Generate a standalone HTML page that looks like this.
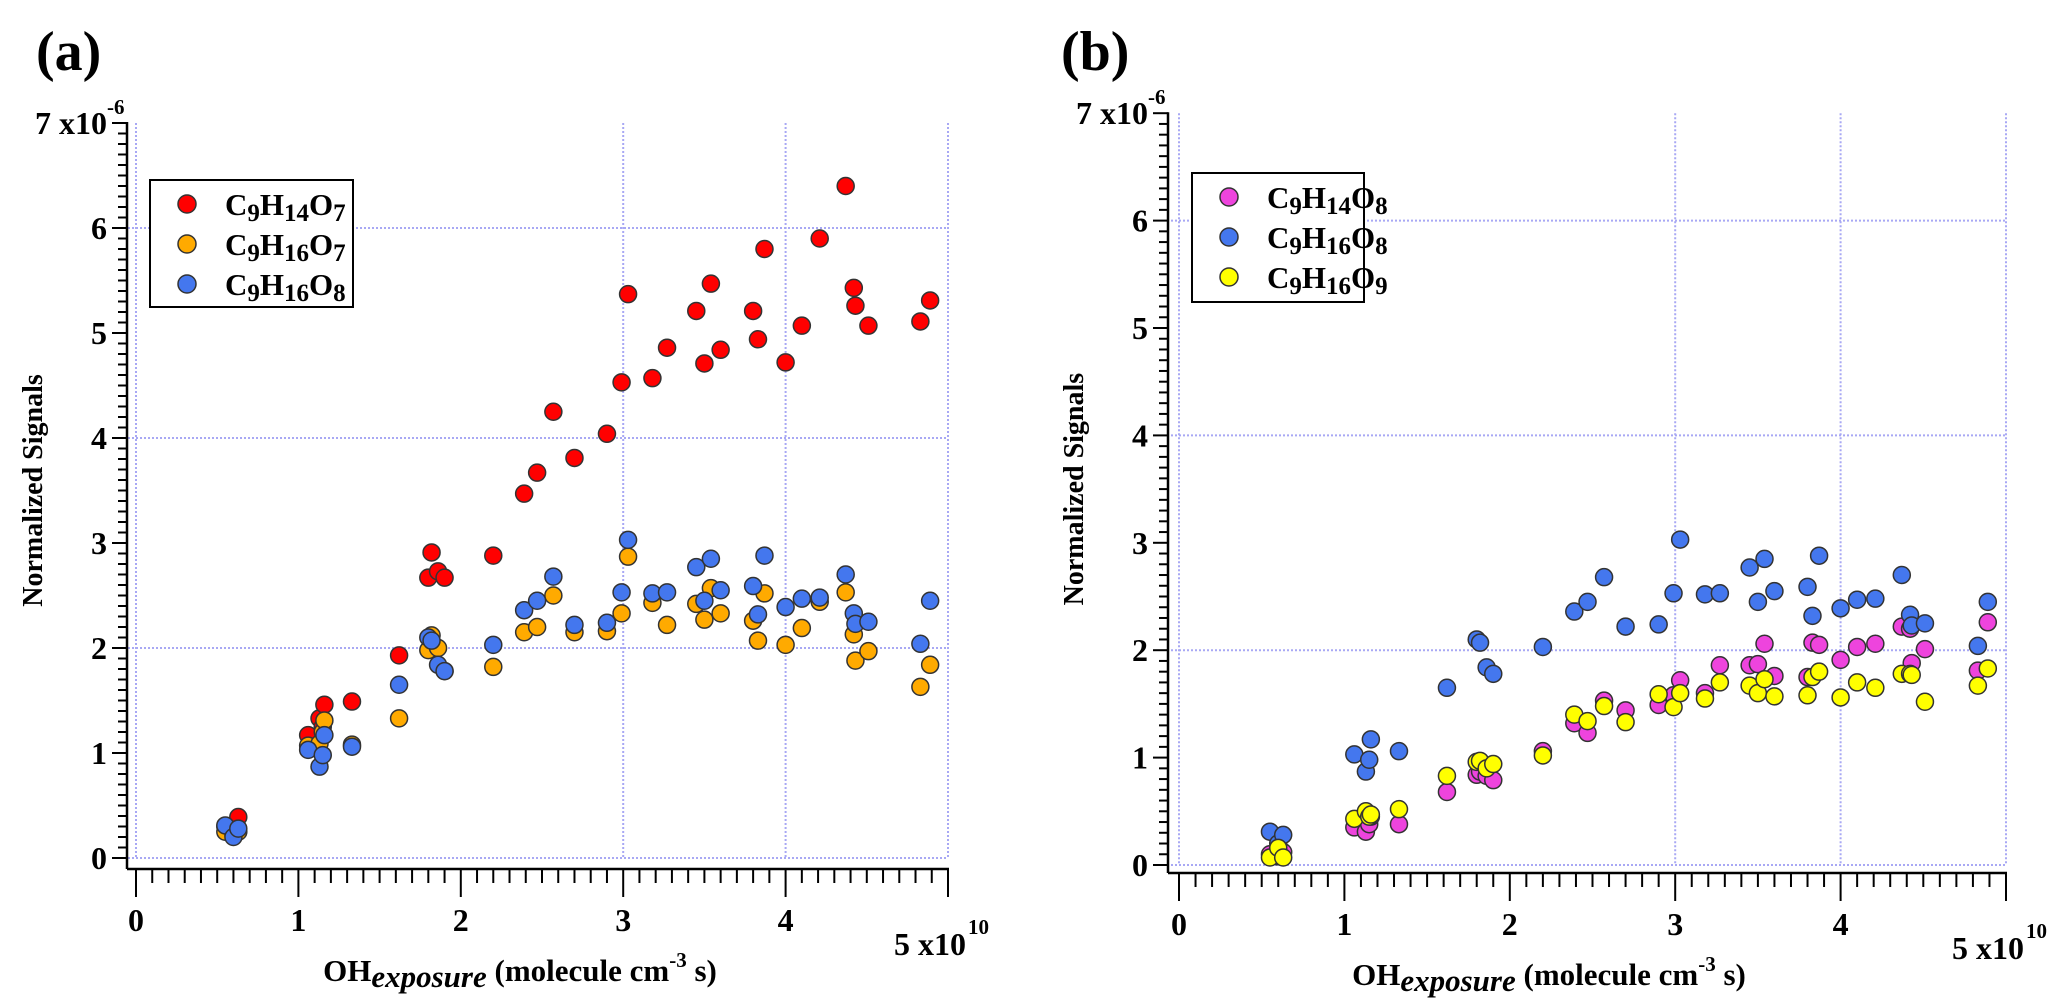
<!DOCTYPE html>
<html><head><meta charset="utf-8">
<style>
html,body{margin:0;padding:0;background:#fff;}
svg{display:block;font-family:"Liberation Serif",serif;font-weight:bold;}
</style></head>
<body>
<svg id="fig" width="2067" height="1000" viewBox="0 0 2067 1000">
<text x="36" y="70" font-size="56">(a)</text>
<text x="1061" y="70" font-size="56">(b)</text>
</svg>
<script>
// ---- data (x in 1e10 molecule cm^-3 s, y in 1e-6) ----
const xTicks = [0, 1, 2, 3, 4, 5];
const yTicks = [0, 1, 2, 3, 4, 5, 6, 7];
const xA = [0.55,0.6,0.63,1.06,1.13,1.15,1.16,1.33,1.62,1.8,1.82,1.86,1.9,2.2,2.39,2.47,2.57,2.7,2.9,2.99,3.03,3.18,3.27,3.45,3.5,3.54,3.6,3.8,3.83,3.87,4.0,4.1,4.21,4.37,4.42,4.43,4.51,4.83,4.89];
const c9h14o7 = [0.3,0.3,0.39,1.17,1.33,1.25,1.46,1.49,1.93,2.67,2.91,2.73,2.67,2.88,3.47,3.67,4.25,3.81,4.04,4.53,5.37,4.57,4.86,5.21,4.71,5.47,4.84,5.21,4.94,5.8,4.72,5.07,5.9,6.4,5.43,5.26,5.07,5.11,5.31];
const c9h16o7 = [0.25,0.22,0.25,1.07,1.09,1.2,1.31,1.08,1.33,1.98,2.12,2.0,1.78,1.82,2.15,2.2,2.5,2.15,2.16,2.33,2.87,2.43,2.22,2.42,2.27,2.57,2.33,2.26,2.07,2.52,2.03,2.19,2.44,2.53,2.13,1.88,1.97,1.63,1.84];
const c9h16o8 = [0.31,0.2,0.28,1.03,0.87,0.98,1.17,1.06,1.65,2.1,2.07,1.84,1.78,2.03,2.36,2.45,2.68,2.22,2.24,2.53,3.03,2.52,2.53,2.77,2.45,2.85,2.55,2.59,2.32,2.88,2.39,2.47,2.48,2.7,2.33,2.23,2.25,2.04,2.45];
const c9h14o8 = [0.1,0.08,0.12,0.35,0.31,0.38,0.45,0.38,0.68,0.84,0.87,0.83,0.79,1.06,1.32,1.23,1.53,1.44,1.49,1.58,1.72,1.6,1.86,1.86,1.87,2.06,1.76,1.75,2.07,2.05,1.91,2.03,2.06,2.22,2.2,1.88,2.01,1.81,2.26];
const c9h16o9 = [0.07,0.16,0.07,0.43,0.5,0.45,0.47,0.52,0.83,0.96,0.97,0.9,0.94,1.02,1.4,1.34,1.48,1.33,1.59,1.47,1.6,1.55,1.7,1.67,1.6,1.73,1.57,1.58,1.75,1.8,1.56,1.7,1.65,1.78,1.78,1.77,1.52,1.67,1.83];

const NS = "http://www.w3.org/2000/svg";
const svg = document.getElementById('fig');
function mk(tag, attrs, parent){ const e=document.createElementNS(NS,tag); for(const k in attrs) e.setAttribute(k,attrs[k]); (parent||svg).appendChild(e); return e; }

function panel(P){
  const g = mk('g',{});
  
  
  const sx = v => P.x0 + v*P.ux;
  const sy = v => P.y0 - v*P.uy;
  P.gridX.forEach(v=>{
    const l=mk('line',{x1:sx(v),x2:sx(v),y1:sy(7),y2:sy(0),stroke:'#a8a8f4','stroke-width':2,'stroke-dasharray':'2 2'},g);
    
    
  });
  P.gridY.forEach(v=>{
    const l=mk('line',{x1:sx(0)-12,x2:sx(5),y1:sy(v),y2:sy(v),stroke:'#a8a8f4','stroke-width':2,'stroke-dasharray':'2 2'},g);
    
    
  });
  const ya=mk('line',{x1:P.ax,x2:P.ax,y1:sy(7)-1,y2:P.ay,stroke:'#000','stroke-width':2.5},g);
  
  
  const xa=mk('line',{x1:P.ax,x2:sx(5)+1,y1:P.ay,y2:P.ay,stroke:'#000','stroke-width':2.5},g);
  
  
  for(let i=0;i<=70;i++){
    const v=i/10, maj=i%10===0;
    mk('line',{x1:P.ax-(maj?15:9),x2:P.ax,y1:sy(v),y2:sy(v),stroke:'#000','stroke-width':2},g);
  }
  for(let i=0;i<=50;i++){
    const v=i/10, maj=i%10===0;
    mk('line',{x1:sx(v),x2:sx(v),y1:P.ay,y2:P.ay+(maj?28:14),stroke:'#000','stroke-width':2},g);
  }
  yTicks.forEach(v=>{
    const t=mk('text',{x:P.ax-20,y:sy(v)+11,'font-size':32,'text-anchor':'end'},g);
    t.textContent = v===7 ? '7 x10' : v;
    
    
    if(v===7){ const s=mk('text',{x:P.ax-20,y:sy(v)-9,'font-size':21},g); s.textContent='-6'; }
  });
  xTicks.forEach(v=>{
    if(v===5){
      const t=mk('text',{x:sx(v)+18,y:P.ay+86,'font-size':32,'text-anchor':'end'},g); t.textContent='5 x10';
      
      
      const s=mk('text',{x:sx(v)+20,y:P.ay+65,'font-size':21},g); s.textContent='10';
    } else {
      const t=mk('text',{x:sx(v),y:P.ay+62,'font-size':32,'text-anchor':'middle'},g); t.textContent=v;
      
      
    }
  });
  const yt=mk('text',{x:0,y:0,'font-size':28,'text-anchor':'middle',transform:`translate(${P.ytx},${(sy(7)+sy(0))/2}) rotate(-90)`},g);
  yt.textContent='Normalized Signals';
  
  
  const xt=mk('text',{x:P.xtx,y:P.ay+112,'font-size':31,'text-anchor':'middle'},g);
  xt.innerHTML='OH<tspan font-style="italic" dy="6">exposure</tspan><tspan dy="-6"> (molecule cm</tspan><tspan font-size="21" dy="-14">-3</tspan><tspan dy="14"> s)</tspan>';
  
  
  P.series.forEach(s=>{
    const sg=mk('g',{},g);
    
    
    s.vals.forEach((v,i)=>{
      const c=mk('circle',{cx:sx(xA[i]),cy:sy(v),r:8.5,fill:s.color,stroke:'#333','stroke-width':1.5},sg);
      
      
    });
  });
  const L=P.legend;
  const lg=mk('g',{},g);
  
  
  mk('rect',{x:L.x,y:L.y,width:L.w,height:L.h,fill:'#fff',stroke:'#000','stroke-width':2},lg);
  P.series.forEach((s,i)=>{
    const cy=L.y+24+i*40;
    const e=mk('g',{},lg);
    
    
    mk('circle',{cx:L.x+37,cy:cy,r:9,fill:s.color,stroke:'#333','stroke-width':1.5},e);
    const t=mk('text',{x:L.x+75,y:cy+11,'font-size':31},e);
    t.innerHTML=s.label;
  });
}
const lab=(a,b)=>`C<tspan font-size="25" dy="6">9</tspan><tspan dy="-6">H</tspan><tspan font-size="25" dy="6">${a}</tspan><tspan dy="-6">O</tspan><tspan font-size="25" dy="6">${b}</tspan>`;

panel({id:'panel-a', x0:136, ux:162.4, y0:858, uy:105, ax:127, ay:869, ytx:42, xtx:520,
  gridX:[0,3,4,5], gridY:[0,2,4,6],
  legend:{x:150,y:180,w:203,h:127},
  series:[
    {key:'c9h14o7',color:'#ff0000',vals:c9h14o7,label:lab('14','7')},
    {key:'c9h16o7',color:'#ffaa00',vals:c9h16o7,label:lab('16','7')},
    {key:'c9h16o8',color:'#4477ee',vals:c9h16o8,label:lab('16','8')}
  ]});
panel({id:'panel-b', x0:1179, ux:165.4, y0:865, uy:107.4, ax:1168, ay:873, ytx:1083, xtx:1549,
  gridX:[0,3,4,5], gridY:[0,2,4,6],
  legend:{x:1192,y:173,w:172,h:129},
  series:[
    {key:'c9h14o8',color:'#ee44dd',vals:c9h14o8,label:lab('14','8')},
    {key:'c9h16o8',color:'#4477ee',vals:c9h16o8,label:lab('16','8')},
    {key:'c9h16o9',color:'#ffff00',vals:c9h16o9,label:lab('16','9')}
  ]});
</script>
</body></html>
